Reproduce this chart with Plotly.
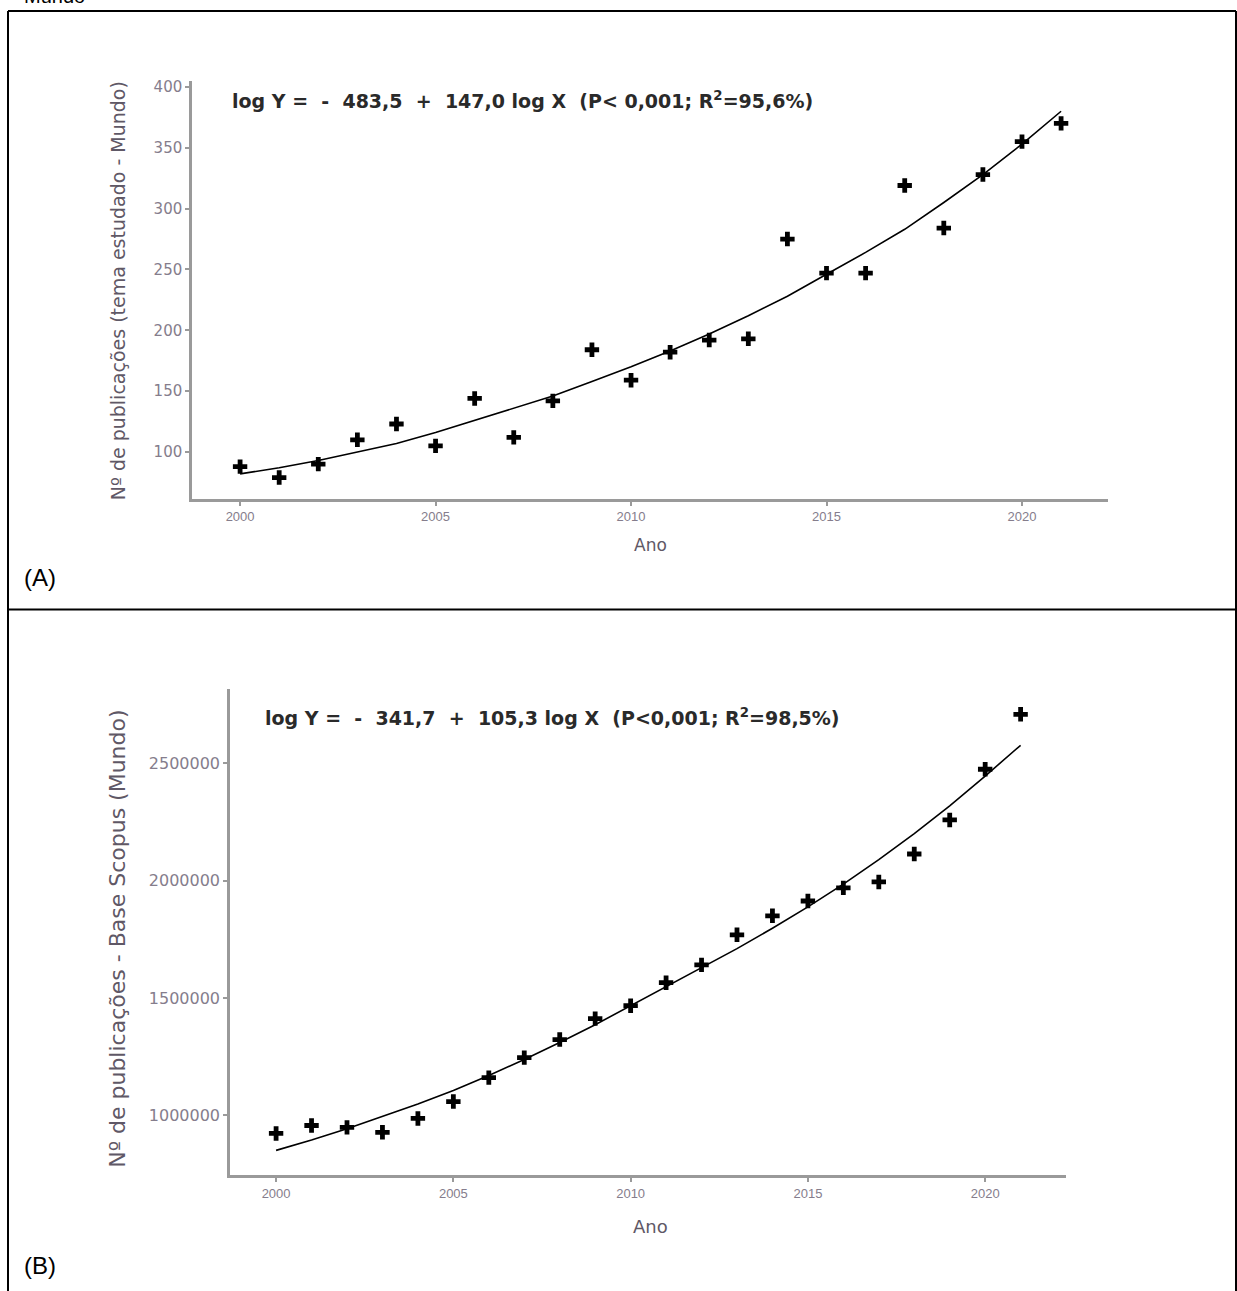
import plotly.graph_objects as go

W, H = 1237, 1291

# ---- Data ----
years = list(range(2000, 2022))

# Panel A: publications on studied topic (world)
pubs_topic = [88, 79, 90, 110, 123, 105, 144, 112, 142, 184, 159, 182, 192, 193, 275, 247, 247, 319, 284, 328, 355, 370]
fit_topic = [82, 87, 93, 100, 107, 116, 126, 136, 146, 158, 170, 183, 197, 212, 228, 246, 264, 283, 305, 328, 353, 380]

# Panel B: publications Scopus (world)
pubs_scopus = [923000, 957000, 949000, 928000, 987000, 1059000, 1161000, 1246000, 1323000, 1412000, 1467000,
               1565000, 1641000, 1769000, 1850000, 1913000, 1969000, 1994000, 2113000, 2258000, 2474000, 2708000]
fit_scopus = [851000, 895000, 943000, 994000, 1048000, 1106000, 1170000, 1238000, 1310000, 1386000, 1467000,
              1545000, 1626000, 1710000, 1797000, 1888000, 1985000, 2089000, 2200000, 2318000, 2445000, 2576000]

ticks_x = [2000, 2005, 2010, 2015, 2020]
ticks_x_text = ["2000", "2005", "2010", "2015", "2020"]
ticks_yA = [100, 150, 200, 250, 300, 350, 400]
ticks_yB = [1000000, 1500000, 2000000, 2500000]
ticks_yB_text = ["1000000", "1500000", "2000000", "2500000"]

eq_A = "log Y =  -  483,5  +  147,0 log X  (P< 0,001; R<sup>2</sup>=95,6%)"
eq_B = "log Y =  -  341,7  +  105,3 log X  (P<0,001; R<sup>2</sup>=98,5%)"
ytitle_A = "Nº de publicações (tema estudado - Mundo)"
ytitle_B = "Nº de publicações - Base Scopus (Mundo)"


def px(x):
    return x / W


def py(y):
    return 1 - y / H


fig = go.Figure()

marker = dict(symbol="cross", size=12, color="black")

fig.add_trace(go.Scatter(x=years, y=pubs_topic, mode="markers", marker=marker,
                         xaxis="x", yaxis="y", showlegend=False))
fig.add_trace(go.Scatter(x=years, y=fit_topic, mode="lines", line=dict(color="black", width=1.6),
                         xaxis="x", yaxis="y", showlegend=False))
fig.add_trace(go.Scatter(x=years, y=pubs_scopus, mode="markers", marker=marker,
                         xaxis="x2", yaxis="y2", showlegend=False))
fig.add_trace(go.Scatter(x=years, y=fit_scopus, mode="lines", line=dict(color="black", width=1.6),
                         xaxis="x2", yaxis="y2", showlegend=False))

axis_common = dict(showline=True, linecolor="#9a9a9a", linewidth=2.5, ticks="outside",
                   ticklen=4, tickcolor="#9a9a9a", tickwidth=2, showgrid=False, zeroline=False,
                   mirror=False, fixedrange=True)
tickfont_x = dict(family="Liberation Sans", size=13, color="#857d8c")

fig.update_layout(
    width=W, height=H,
    margin=dict(l=0, r=0, t=0, b=0),
    paper_bgcolor="white", plot_bgcolor="white",
    xaxis=dict(domain=[px(192), px(1108)], range=[1998.77, 2022.2], anchor="y",
               tickvals=ticks_x, ticktext=ticks_x_text, tickfont=tickfont_x, **axis_common),
    yaxis=dict(domain=[py(497), py(78)], range=[61.5, 405], anchor="x",
               tickvals=ticks_yA, tickfont=dict(family="DejaVu Sans", size=15, color="#857d8c"),
               **axis_common),
    xaxis2=dict(domain=[px(230), px(1066)], range=[1998.70, 2022.28], anchor="y2",
                tickvals=ticks_x, ticktext=ticks_x_text, tickfont=tickfont_x, **axis_common),
    yaxis2=dict(domain=[py(1175), py(688)], range=[745000, 2814000], anchor="x2",
                tickvals=ticks_yB, ticktext=ticks_yB_text,
                tickfont=dict(family="DejaVu Sans", size=16, color="#857d8c"), **axis_common),
)

ann = []
eq_font = dict(family="DejaVu Sans", size=19, color="#2a2a2a", weight="bold")
# Equations
ann.append(dict(x=px(230), y=py(97), xref="paper", yref="paper", xanchor="left", yanchor="middle",
                text=eq_A, showarrow=False, font=eq_font))
ann.append(dict(x=px(263), y=py(716), xref="paper", yref="paper", xanchor="left", yanchor="middle",
                text=eq_B, showarrow=False, font=eq_font))
# Y axis titles
ann.append(dict(x=px(118), y=py(289), xref="paper", yref="paper", xanchor="center", yanchor="middle",
                text=ytitle_A, textangle=-90, showarrow=False,
                font=dict(family="DejaVu Sans", size=19, color="#5f5866")))
ann.append(dict(x=px(118), y=py(938), xref="paper", yref="paper", xanchor="center", yanchor="middle",
                text=ytitle_B, textangle=-90, showarrow=False,
                font=dict(family="DejaVu Sans", size=22, color="#5f5866")))
# X axis titles
ann.append(dict(x=px(650), y=py(543), xref="paper", yref="paper", xanchor="center", yanchor="middle",
                text="Ano", showarrow=False, font=dict(family="DejaVu Sans", size=17, color="#5f5866")))
ann.append(dict(x=px(650), y=py(1226), xref="paper", yref="paper", xanchor="center", yanchor="middle",
                text="Ano", showarrow=False, font=dict(family="DejaVu Sans", size=18, color="#5f5866")))
# Panel labels
ann.append(dict(x=px(22), y=py(576), xref="paper", yref="paper", xanchor="left", yanchor="middle",
                text="(A)", showarrow=False, font=dict(family="Liberation Sans", size=24, color="black")))
ann.append(dict(x=px(22), y=py(1265), xref="paper", yref="paper", xanchor="left", yanchor="middle",
                text="(B)", showarrow=False, font=dict(family="Liberation Sans", size=24, color="black")))
# Cut-off caption text at top
ann.append(dict(x=px(22), y=py(-7), xref="paper", yref="paper", xanchor="left", yanchor="middle",
                text="Mundo", showarrow=False, font=dict(family="Liberation Sans", size=20, color="black")))
fig.update_layout(annotations=ann)

# Table borders
line = dict(color="black", width=2)
shapes = [
    dict(type="line", xref="paper", yref="paper", x0=px(8), x1=px(1236), y0=py(8), y1=py(8), line=line),
    dict(type="line", xref="paper", yref="paper", x0=px(8), x1=px(1236), y0=py(608), y1=py(608), line=line),
    dict(type="line", xref="paper", yref="paper", x0=px(8), x1=px(8), y0=py(8), y1=py(1300), line=line),
    dict(type="line", xref="paper", yref="paper", x0=px(1236), x1=px(1236), y0=py(8), y1=py(1300), line=line),
]
fig.update_layout(shapes=shapes)

fig.write_html("out.html", config={"displayModeBar": False},
               post_script="document.body.style.margin='0';document.body.style.padding='0';")
